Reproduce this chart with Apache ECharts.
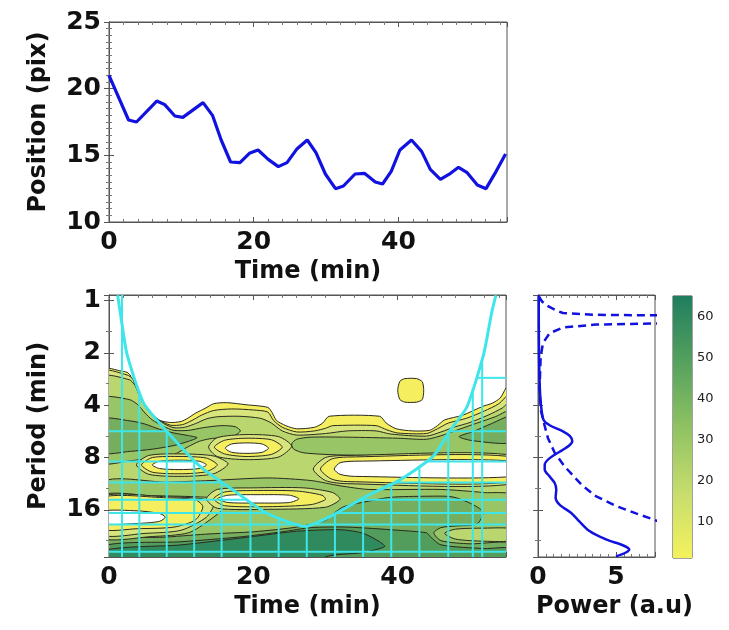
<!DOCTYPE html>
<html><head><meta charset="utf-8">
<script src="https://cdn.jsdelivr.net/npm/echarts@6/dist/echarts.min.js"></script>
<style>html,body{margin:0;padding:0;background:#fff}#c{width:729px;height:630px}</style>
</head><body><div id="c"></div>
<script>
// ---------------- data ----------------
const posTime  = [0,2.7,3.8,6.6,7.7,9.1,10.2,13.0,14.3,15.5,16.8,18.1,19.4,20.6,22.0,23.4,24.6,26.0,27.4,28.6,29.9,31.3,32.4,34.0,35.3,36.8,37.8,39.0,40.2,41.8,43.2,44.4,45.8,47.2,48.3,49.5,50.9,52.1,53.5,54.8];
const posValue = [21.0,17.65,17.5,19.07,18.8,17.95,17.85,18.95,18.0,16.15,14.5,14.45,15.15,15.4,14.7,14.15,14.45,15.5,16.15,15.2,13.6,12.5,12.7,13.6,13.65,13.0,12.85,13.8,15.4,16.15,15.3,13.95,13.2,13.65,14.1,13.7,12.78,12.5,13.8,15.1];

// period axis range (min)
const periodRange = [0.927, 29.9];

// global wavelet spectrum (solid)
const globalPeriod = [0.93,1.31,2.13,3.22,4.06,4.86,5.21,5.65,6.02,6.45,6.82,7.21,8.06,8.8,9.36,10.29,11.21,12.23,13.62,14.92,16.68,18.25,21.2,23.7,25.5,27.06,28.26,29.65];
const globalPower  = [0.05,0.05,0.07,0.12,0.2,0.36,0.75,1.6,2.05,2.2,2.0,1.6,0.75,0.43,0.43,0.75,1.07,1.17,1.13,1.38,2.13,2.55,3.3,4.36,5.4,5.85,5.6,5.0];

// significance level (dashed)
const sigPeriod = [0.945,1.01,1.075,1.14,1.177,1.205,1.214,1.223,1.334,1.353,1.371,1.427,1.538,1.751,2.103,3.243,4.262,5.06,6.19,7.5,8.99,11.49,13.34,15.2,16.77,17.98,18.62];
const sigPower  = [0.06,0.25,0.64,1.2,1.6,3.7,7.5,12,12,7.5,3.7,1.6,0.75,0.32,0.17,0.1,0.18,0.38,0.64,1.07,1.7,2.8,3.7,5.0,6.28,7.24,7.7];

// cone of influence
const coiTime   = [1.2,1.6,2.5,4.8,8.0,12.6,17.2,21.8,27.2,31.1,35.7,40.3,44.9,47.3,49.6,51.9,53.0,53.6];
const coiPeriod = [0.93,1.2,2.04,3.89,5.65,8.99,12.32,16.68,19.92,17.05,13.34,10.75,7.88,5.56,4.08,2.04,1.18,0.93];

// hatch lines below the cone
const hatchTimes          = [4.2,8.0,11.8,15.6,19.6,23.5,27.4,31.3,35.2,39.1,43.0,47.0,50.4,51.7];
const hatchFullTimes      = [1.8];
const hatchPeriods        = [5.65,8.43,11.12,14.0,16.68,19.46,27.9];
const hatchRightPeriods   = [2.78];

// wavelet power contours: fill level and outline ("time,log2(period)" vertices), drawn in this order
const contourLevels = [1,1,2,3,4,4,4,5,5,5,6,7, 2,1,0, 2,1,0, 2,1,0, 3,2,1,0, 2,1,0, 3];
const contourShapes = [
 "-1,1.27 0,1.29 1.5,1.34 2.5,1.37 3.0,1.44 3.4,1.71 4.0,1.94 4.8,2.09 6,2.22 7,2.29 8.5,2.33 10,2.31 11,2.24 12,2.15 13.3,2.06 14.5,1.97 16.3,1.95 19,1.99 22,2.04 22.6,2.14 23.2,2.29 24.5,2.39 26,2.45 28.5,2.42 29.6,2.34 30.5,2.21 37.5,2.21 38.4,2.34 39.8,2.45 42,2.49 44.4,2.48 45.5,2.39 46.5,2.28 49,2.19 51.8,2.02 53.1,1.96 54.2,1.86 55,1.67 56,1.49 56,5.2 -1,5.2",
 "40.0,1.72 40.3,1.54 41.0,1.49 42.6,1.49 43.4,1.55 43.6,1.72 43.4,1.89 42.6,1.94 41.0,1.94 40.3,1.89",
 "-1,1.36 2.5,1.42 3.3,1.5 3.9,1.75 4.6,1.98 5.5,2.12 6.8,2.27 8.5,2.38 10.2,2.37 11.5,2.29 12.8,2.19 14.5,2.1 17,2.07 20,2.09 22,2.13 22.8,2.29 24,2.42 26,2.51 28.5,2.49 30,2.44 31,2.39 37,2.39 38.5,2.47 40,2.53 44,2.54 45.5,2.45 47,2.34 49.5,2.25 52,2.11 54,1.97 56,1.74 56,5.2 -1,5.2",
 "-1,1.47 2.8,1.51 3.6,1.62 4.3,1.85 5.1,2.05 6.2,2.2 7.6,2.35 9,2.43 10.5,2.42 12,2.35 13.5,2.26 15,2.22 18,2.21 21,2.25 22.5,2.34 24,2.49 26,2.57 30,2.54 33,2.49 37,2.49 39,2.55 44,2.59 46,2.51 48,2.41 50,2.33 52.5,2.19 54.5,2.05 56,1.89 56,5.2 -1,5.2",
 "-1,1.87 2.8,1.89 4,1.99 5,2.15 6,2.28 7.5,2.4 9,2.48 11,2.48 13,2.43 15.5,2.39 17.5,2.41 18.2,2.49 17.2,2.59 14,2.64 12.5,2.69 11,2.79 9,2.94 6,3.01 3,3.06 -1,3.09",
 "25.3,2.74 26,2.65 28,2.61 33,2.61 40,2.63 44,2.65 46.5,2.56 48.5,2.46 51,2.34 53.5,2.22 56,2.09 56,2.96 50,2.95 40,2.96 32,2.95 27,2.91 25.6,2.84",
 "-1,3.49 8,3.47 14,3.44 22,3.39 28,3.44 32,3.54 36,3.61 46,3.61 52,3.67 56,3.74 56,5.2 -1,5.2",
 "-1,2.27 3,2.3 5,2.36 7,2.46 9,2.53 11,2.58 12.2,2.62 11,2.69 9,2.77 6,2.84 3,2.88 -1,2.9",
 "56,2.2 53,2.35 50.5,2.5 48.5,2.6 50.5,2.68 56,2.7",
 "-1,4.61 8,4.52 14,4.46 20,4.42 26,4.33 30,4.2 31.2,4.06 32.5,3.94 35,3.86 39,3.76 44,3.74 47.5,3.75 50,3.87 51.8,4.04 51,4.27 48,4.31 46,4.34 45,4.44 46,4.59 50,4.65 56,4.65 56,5.2 -1,5.2",
 "-1,4.7 10,4.61 18,4.52 24,4.42 28,4.34 33,4.33 40,4.39 44,4.44 44.5,4.51 46,4.67 52,4.74 56,4.75 56,5.2 -1,5.2",
 "-1,4.79 10,4.67 20,4.51 26,4.41 32,4.38 35,4.44 37,4.57 38.2,4.7 35,4.82 30,4.9 28,5.2 -1,5.2",
 "13.8,2.8 15,2.62 19,2.56 23.5,2.6 25.3,2.78 23.5,2.99 19,3.04 15,2.98",
 "14.6,2.8 16,2.67 19,2.63 22.5,2.66 24,2.8 22.5,2.94 19,2.98 16,2.93",
 "16.1,2.82 17,2.74 19.1,2.72 21.2,2.74 22.1,2.82 21.2,2.9 19.1,2.92 17,2.9",
 "3.8,3.14 5.5,2.96 10,2.93 14.5,2.97 16.5,3.12 14.5,3.31 10,3.36 5.5,3.32",
 "4.5,3.14 6,3.0 10,2.98 13.5,3.01 15,3.14 13.5,3.27 10,3.31 6,3.28",
 "6,3.14 7,3.07 9.7,3.05 12.5,3.07 13.5,3.14 12.5,3.21 9.7,3.23 7,3.21",
 "28.3,3.22 30,3.0 33,2.96 56,2.96 56,3.5 33,3.5 30,3.44",
 "29.3,3.22 30.8,3.03 33,2.99 56,2.99 56,3.46 33,3.46 30.8,3.41",
 "31.2,3.22 32,3.1 34,3.07 56,3.07 56,3.36 34,3.36 32,3.32",
 "-1,3.73 6,3.73 12,3.75 15,3.79 16,3.94 14,4.19 11,4.44 6,4.51 -1,4.53",
 "-1,3.75 8,3.75 13,3.79 14.5,3.89 13.5,4.14 10,4.39 5,4.45 -1,4.47",
 "-1,3.77 8,3.77 12,3.81 13,3.94 12,4.19 9,4.33 4,4.36 -1,4.36",
 "-1,4.03 4,4.02 7,4.07 7.8,4.14 7,4.22 4,4.26 -1,4.26",
 "13.5,3.79 15,3.61 20,3.58 27,3.58 31,3.67 32,3.8 30,3.95 22,3.99 15,3.97",
 "14.5,3.79 16,3.66 20,3.63 26,3.64 29.5,3.72 30,3.8 28,3.9 22,3.94 16,3.92",
 "15,3.79 16.5,3.72 20.5,3.71 25,3.72 26.3,3.79 25,3.86 20.5,3.87 16.5,3.86",
 "46.5,4.45 48,4.37 52,4.35 56,4.37 56,4.58 52,4.6 48,4.56"
];
const levelColors = ['#ffffff','#f5ef5f','#d8e57c','#bad66f','#98c566','#74ae5e','#529c5c','#2f8a5d'];

const colorbarRange = [1, 65];
const colorbarTicks = [10,20,30,40,50,60];
const colorbarStops = ['#f4f25c','#c7dd6e','#8fc262','#55a15e','#1f7e5f'];

// ---------------- build helpers ----------------
const FONT = 'DejaVu Sans';
const AX = '#555';
function merge(a, b){ const o = JSON.parse(JSON.stringify(a)); for (const k in b){ if (b[k] && typeof b[k]==='object' && !Array.isArray(b[k]) && o[k] && typeof o[k]==='object') o[k]=merge(o[k], b[k]); else o[k]=b[k]; } return o; }
const baseAxis = {
  nameLocation:'middle',
  axisLine:{show:true, lineStyle:{color:AX, width:1}},
  axisTick:{show:true, inside:true, length:5, lineStyle:{color:AX}},
  minorTick:{show:true, splitNumber:10, length:3, lineStyle:{color:'#777'}},
  splitLine:{show:false}, minorSplitLine:{show:false},
  axisLabel:{show:true, fontFamily:FONT, fontWeight:'bold', fontSize:25, color:'#111', margin:8, showMaxLabel:false},
  nameTextStyle:{fontFamily:FONT, fontWeight:'bold', fontSize:24, color:'#111'}
};
function ax(o){ return merge(baseAxis, o); }
const mirror = {axisLabel:{show:false}, name:''};
const logAx = {type:'log', logBase:2, min:periodRange[0], max:periodRange[1], inverse:true, minorTick:{splitNumber:2},
               axisLabel:{showMinLabel:false, showMaxLabel:false}};

const shapes = contourShapes.map(s => s.split(' ').map(p => { const [t, l] = p.split(',').map(Number); return [t, Math.pow(2, l)]; }));

const lg = Math.log2;
function coiAt(t){
  for (let i=0;i<coiTime.length-1;i++){
    if (t>=coiTime[i] && t<=coiTime[i+1]){
      const f=(t-coiTime[i])/(coiTime[i+1]-coiTime[i]);
      return Math.pow(2, lg(coiPeriod[i])+f*(lg(coiPeriod[i+1])-lg(coiPeriod[i])));
    }
  }
  return periodRange[0];
}
function coiCross(p){
  const cross = [];
  for (let i=0;i<coiTime.length-1;i++){
    const a=lg(coiPeriod[i]), b=lg(coiPeriod[i+1]), q=lg(p);
    if ((q-a)*(q-b) <= 0 && a!==b) cross.push(coiTime[i] + (q-a)/(b-a)*(coiTime[i+1]-coiTime[i]));
  }
  return cross;
}
const hatchSegs = [];
hatchFullTimes.forEach(t => hatchSegs.push([t, periodRange[1], t, periodRange[0]]));
hatchTimes.forEach(t => hatchSegs.push([t, periodRange[1], t, coiAt(t)]));
hatchPeriods.forEach(p => {
  const cross = coiCross(p);
  if (cross.length < 2) hatchSegs.push([0, p, 55, p]);
  else { hatchSegs.push([0, p, cross[0], p]); hatchSegs.push([cross[cross.length-1], p, 55, p]); }
});
hatchRightPeriods.forEach(p => {
  const cross = coiCross(p);
  hatchSegs.push([cross[cross.length-1], p, 55, p]);
});

const CYAN = '#3ee6ea';
const BLUE = '#1212e0';

const option = {
  animation:false,
  backgroundColor:'#fff',
  grid:[
    {left:109, top:22, width:398, height:200, show:true, borderColor:AX, borderWidth:1},
    {left:109, top:295, width:397, height:262, show:true, borderColor:AX, borderWidth:1},
    {left:538, top:295, width:117, height:262, show:true, borderColor:AX, borderWidth:1},
    {left:673, top:296, width:19, height:262, show:true, borderColor:'#444', borderWidth:1}
  ],
  xAxis:[
    ax({gridIndex:0, type:'value', min:0, max:55, interval:20, name:'Time (min)', nameGap:38}),
    ax(merge(mirror,{gridIndex:0, type:'value', min:0, max:55, interval:20, position:'top'})),
    ax({gridIndex:1, type:'value', min:0, max:55, interval:20, name:'Time (min)', nameGap:38}),
    ax(merge(mirror,{gridIndex:1, type:'value', min:0, max:55, interval:20, position:'top'})),
    ax({gridIndex:2, type:'value', min:0, max:7.5, interval:5, name:'Power (a.u)', nameGap:38,
        nameTextStyle:{padding:[0,0,0,36]}}),
    ax(merge(mirror,{gridIndex:2, type:'value', min:0, max:7.5, interval:5, position:'top'})),
    {gridIndex:3, type:'value', min:0, max:1, show:false}
  ],
  yAxis:[
    ax({gridIndex:0, type:'value', min:10, max:25, interval:5, name:'Position (pix)', nameGap:58, axisLabel:{showMaxLabel:true}}),
    ax(merge(mirror,{gridIndex:0, type:'value', min:10, max:25, interval:5, position:'right'})),
    ax(merge(logAx,{gridIndex:1, name:'Period (min)', nameGap:58})),
    ax(merge(merge(logAx, mirror),{gridIndex:1, position:'right'})),
    ax(merge(merge(logAx, mirror),{gridIndex:2})),
    ax(merge(merge(logAx, mirror),{gridIndex:2, position:'right'})),
    {gridIndex:3, type:'value', min:colorbarRange[0], max:colorbarRange[1], position:'right',
     axisLine:{show:false}, splitLine:{show:false},
     axisTick:{show:true, customValues:colorbarTicks, length:3, lineStyle:{color:'#444'}},
     axisLabel:{show:true, customValues:colorbarTicks, fontFamily:FONT, fontSize:13, color:'#222', margin:5}}
  ],
  series:[
    {type:'line', xAxisIndex:0, yAxisIndex:0, data:posTime.map((t,i)=>[t,posValue[i]]),
     showSymbol:false, lineStyle:{color:BLUE, width:3.2}, clip:true},
    {type:'custom', xAxisIndex:2, yAxisIndex:2, clip:true, data:contourLevels.map((lv,i)=>[i, lv]),
     renderItem:(params, api)=>{
       const i = params.dataIndex;
       const pts = shapes[i].map(p => api.coord(p));
       const lv = contourLevels[i];
       return {type:'polygon', shape:{points:pts, smooth:0.25}, style:{fill:levelColors[lv], stroke:'#2a2a1e', lineWidth:1}};
     }},
    {type:'custom', xAxisIndex:2, yAxisIndex:2, clip:true, data:hatchSegs,
     renderItem:(params, api)=>{
       const a = api.coord([api.value(0), api.value(1)]);
       const b = api.coord([api.value(2), api.value(3)]);
       return {type:'line', shape:{x1:a[0], y1:a[1], x2:b[0], y2:b[1]}, style:{stroke:CYAN, lineWidth:2}};
     }},
    {type:'line', xAxisIndex:2, yAxisIndex:2, data:coiTime.map((t,i)=>[t,coiPeriod[i]]),
     showSymbol:false, smooth:0.2, lineStyle:{color:CYAN, width:3}, clip:true},
    {type:'line', xAxisIndex:4, yAxisIndex:4, data:globalPower.map((p,i)=>[p,globalPeriod[i]]),
     showSymbol:false, smooth:0.3, lineStyle:{color:BLUE, width:2.5}, clip:true},
    {type:'line', xAxisIndex:4, yAxisIndex:4, data:sigPower.map((p,i)=>[p,sigPeriod[i]]),
     showSymbol:false, lineStyle:{color:BLUE, width:2.5, type:[8,5]}, clip:true},
    {type:'custom', xAxisIndex:6, yAxisIndex:6, data:[[0, colorbarRange[0], 1, colorbarRange[1]]],
     renderItem:(params, api)=>{
       const a = api.coord([api.value(0), api.value(1)]);
       const b = api.coord([api.value(2), api.value(3)]);
       return {type:'rect', shape:{x:a[0], y:b[1], width:b[0]-a[0], height:a[1]-b[1]},
         style:{fill:{type:'linear', x:0, y:1, x2:0, y2:0, colorStops:colorbarStops.map((c,i)=>({offset:i/(colorbarStops.length-1), color:c}))}}};
     }}
  ]
};
const chart = echarts.init(document.getElementById('c'));
chart.setOption(option);
</script></body></html>
